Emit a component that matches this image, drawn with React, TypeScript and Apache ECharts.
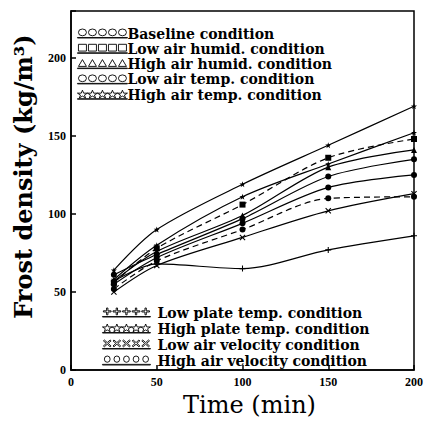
import React, { useEffect, useRef } from "react";
import * as echarts from "echarts";

const times = [25, 50, 100, 150, 200];
const seriesNames = [
  "Baseline condition",
  "Low air humid. condition",
  "High air humid. condition",
  "Low air temp. condition",
  "High air temp. condition",
  "Low plate temp. condition",
  "High plate temp. condition",
  "Low air velocity condition",
  "High air velocity condition",
];
const baseline = [61, 74, 97, 124, 135];
const lowAirHumid = [56, 78, 106, 136, 148];
const highAirHumid = [57, 76, 99, 130, 141];
const lowAirTemp = [55, 72, 94, 117, 125];
const highAirTemp = [64, 90, 119, 144, 169];
const lowPlateTemp = [57, 68, 65, 77, 86];
const highPlateTemp = [58, 80, 111, 132, 152];
const lowAirVelocity = [50, 67, 85, 102, 113];
const highAirVelocity = [52, 70, 90, 110, 111];
const yTicks = [0, 50, 100, 150, 200];

const values = [
  baseline, lowAirHumid, highAirHumid, lowAirTemp, highAirTemp,
  lowPlateTemp, highPlateTemp, lowAirVelocity, highAirVelocity,
];
const dashed = [false, true, false, false, false, false, false, false, true];

// glyph makers (10x10 cell at offset ox)
const circ = (ox: number) => `M${ox + 1},5 A4,4 0 1,0 ${ox + 9},5 A4,4 0 1,0 ${ox + 1},5 Z `;
const smallCirc = (ox: number) => `M${ox + 2},6 A3,3 0 1,0 ${ox + 8},6 A3,3 0 1,0 ${ox + 2},6 Z `;
const sq = (ox: number) => `M${ox + 1},1 L${ox + 9},1 L${ox + 9},9 L${ox + 1},9 Z `;
const tri = (ox: number) => `M${ox + 5},1 L${ox + 9},9 L${ox + 1},9 Z `;
const star = (ox: number) =>
  `M${ox + 5},0 L${ox + 6.2},3.8 L${ox + 10},3.8 L${ox + 7},6.2 L${ox + 8.1},10 L${ox + 5},7.6 L${ox + 1.9},10 L${ox + 3},6.2 L${ox},3.8 L${ox + 3.8},3.8 Z `;
const plus = (ox: number) =>
  `M${ox + 4.3},1 L${ox + 5.7},1 L${ox + 5.7},4.3 L${ox + 9},4.3 L${ox + 9},5.7 L${ox + 5.7},5.7 L${ox + 5.7},9 L${ox + 4.3},9 L${ox + 4.3},5.7 L${ox + 1},5.7 L${ox + 1},4.3 L${ox + 4.3},4.3 Z `;
const ex = (ox: number) =>
  `M${ox + 1},2 L${ox + 2},1 L${ox + 5},4 L${ox + 8},1 L${ox + 9},2 L${ox + 6},5 L${ox + 9},8 L${ox + 8},9 L${ox + 5},6 L${ox + 2},9 L${ox + 1},8 L${ox + 4},5 Z `;
const glyphs = [circ, sq, tri, circ, star, plus, star, ex, smallCirc];

const iconFor = (g: (ox: number) => string) => {
  let d = "";
  for (let i = 0; i < 5; i++) d += g(i * 10);
  d += "M0,11 L50,11 L50,11.6 L0,11.6 Z";
  return "path://" + d;
};
const symbolFor = (g: (ox: number) => string) => "path://" + g(0);

export default function App() {
  const ref = useRef<HTMLDivElement>(null);
  useEffect(() => {
    if (!ref.current) return;
    document.body.style.margin = "0";
    const chart = echarts.init(ref.current, null, { renderer: "svg" });
    const font = "DejaVu Serif";
    const legendItem = (i: number) => ({
      name: seriesNames[i],
      icon: iconFor(glyphs[i]),
      itemStyle: { color: "#fff", borderColor: "#000", borderWidth: 0.9 },
    });
    const legendText = {
      fontFamily: font,
      fontWeight: "bold" as const,
      fontSize: 14,
      lineHeight: 15,
      color: "#000",
    };
    chart.setOption({
      animation: false,
      backgroundColor: "#fff",
      grid: {
        left: 71, right: 21, top: 11, bottom: 46,
        show: true, borderColor: "#000", borderWidth: 1.5,
      },
      legend: [
        {
          orient: "vertical", left: 72, top: 21,
          itemWidth: 50, itemHeight: 9, itemGap: 0.3,
          symbolKeepAspect: false,
          data: [0, 1, 2, 3, 4].map(legendItem),
          textStyle: { ...legendText, padding: [0, 0, 0, -5] },
          selectedMode: false,
        },
        {
          orient: "vertical", left: 97, top: 300,
          itemWidth: 48, itemHeight: 9, itemGap: 1,
          symbolKeepAspect: false,
          data: [5, 6, 7, 8].map(legendItem),
          textStyle: { ...legendText, padding: [0, 0, 0, 2] },
          selectedMode: false,
        },
      ],
      xAxis: {
        type: "value", min: 0, max: 200, interval: 50,
        name: "Time (min)", nameLocation: "middle", nameGap: 13,
        nameTextStyle: { fontFamily: font, fontSize: 24, color: "#000", padding: [0, 0, 0, 14] },
        axisLine: { lineStyle: { color: "#000", width: 1.5 } },
        axisTick: { inside: true, length: 5, lineStyle: { color: "#000", width: 1.5 } },
        axisLabel: { fontFamily: "Liberation Serif", fontWeight: "bold", fontSize: 12, color: "#000", margin: 6 },
        splitLine: { show: false },
      },
      yAxis: {
        type: "value", min: 0, max: 230, interval: 50,
        name: "Frost density (kg/m³)", nameLocation: "middle", nameGap: 36, nameRotate: 90,
        nameTextStyle: { fontFamily: font, fontWeight: "bold", fontSize: 24, color: "#000", padding: [0, 0, 0, 28] },
        axisLine: { lineStyle: { color: "#000", width: 1.5 } },
        axisTick: { inside: true, length: 5, lineStyle: { color: "#000", width: 1.5 } },
        axisLabel: {
          fontFamily: "Liberation Serif", fontWeight: "bold", fontSize: 12, color: "#000", margin: 5,
          formatter: (v: number) => (yTicks.includes(v) ? String(v) : ""),
        },
        splitLine: { show: false },
      },
      series: values.map((vals, i) => ({
        name: seriesNames[i],
        type: "line",
        smooth: 0.3,
        data: times.map((t, j) => [t, vals[j]]),
        symbol: symbolFor(glyphs[i]),
        symbolSize: 6,
        itemStyle: { color: "#000" },
        lineStyle: { color: "#000", width: 1.2, type: dashed[i] ? [6, 4] : "solid" },
      })),
    });
    return () => chart.dispose();
  }, []);
  return <div ref={ref} style={{ width: 435, height: 422 }} />;
}
